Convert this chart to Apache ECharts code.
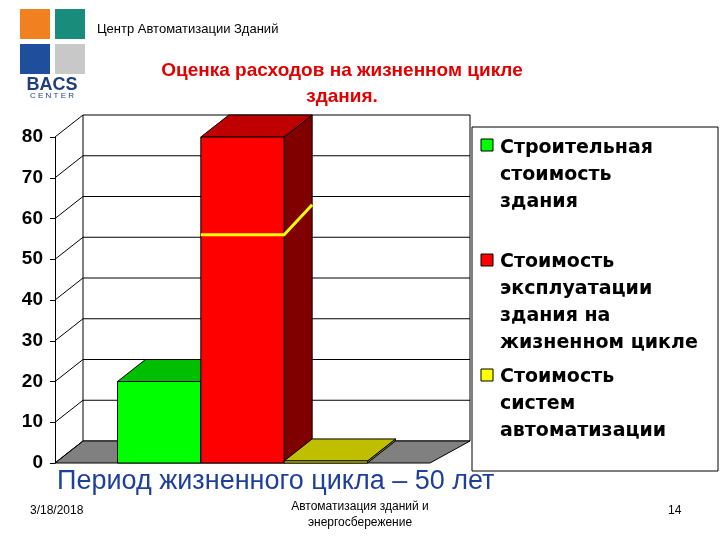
<!DOCTYPE html><html><head><meta charset="utf-8">
<script src="https://cdn.jsdelivr.net/npm/echarts@6/dist/echarts.min.js"></script>
<style>body{margin:0}#c{width:720px;height:540px}</style></head><body><div id="c"></div><script>
const seriesNames=['Строительная стоимость здания','Стоимость эксплуатации здания на жизненном цикле','Стоимость систем автоматизации'];
const barValues=[20,80,0.5];
const barColors=['#00ff00','#ff0000','#ffff00'];
const barPos=[1.25,2.25,3.25];
const lineX=[1.75,2.75];
const lineY=[56,56];
const yTicks=[0,10,20,30,40,50,60,70,80];
const DX=28,DY=-22;
function shade(c,f){const n=parseInt(c.slice(1),16);let r=n>>16,g=(n>>8)&255,b=n&255;return 'rgb('+Math.round(r*f)+','+Math.round(g*f)+','+Math.round(b*f)+')';}
const chart=echarts.init(document.getElementById('c'));
chart.setOption({
 animation:false,backgroundColor:'#fff',
 grid:{left:55,top:137,width:375,height:326},
 xAxis:{type:'value',min:0,max:4.5,show:false},
 yAxis:{type:'value',min:0,max:80,interval:10,axisLine:{show:true,lineStyle:{color:'#000'}},axisTick:{show:true,lineStyle:{color:'#000'}},splitLine:{show:false},
   axisLabel:{color:'#000',fontSize:19,fontWeight:'bold',fontFamily:'Liberation Sans',margin:12}},
 series:[
 {type:'custom',data:[[0]],z:1,renderItem:(p,api)=>{
   const a=api.coord([0,0]),b=api.coord([4.5,0]),t=api.coord([0,80]);
   const top=t[1]+DY,R=b[0]+DX+12;
   const ch=[
    {type:'polygon',shape:{points:[[a[0]+DX,top],[R,top],[R,a[1]+DY],[a[0]+DX,a[1]+DY]]},style:{fill:'#fff',stroke:'#000',lineWidth:1}},
    {type:'polygon',shape:{points:[[a[0],a[1]],[a[0]+DX,a[1]+DY],[R,a[1]+DY],[b[0],a[1]]]},style:{fill:'#808080',stroke:'#000',lineWidth:1}}];
   yTicks.forEach(v=>{const y=api.coord([0,v])[1];
     ch.push({type:'line',shape:{x1:a[0],y1:y,x2:a[0]+DX,y2:y+DY},style:{stroke:'#000',lineWidth:1}});
     if(v>0&&v<80)ch.push({type:'line',shape:{x1:a[0]+DX,y1:y+DY,x2:R,y2:y+DY},style:{stroke:'#000',lineWidth:1}});});
   return {type:'group',children:ch};}},
 {type:'custom',data:barValues.map((v,i)=>[barPos[i],v,i]),z:2,renderItem:(p,api)=>{
   const x=api.value(0),v=api.value(1),i=api.value(2);
   const l=api.coord([x-0.5,v]),r=api.coord([x+0.5,0]);
   const c=barColors[i];
   return {type:'group',children:[
    {type:'polygon',shape:{points:[[r[0],l[1]],[r[0]+DX,l[1]+DY],[r[0]+DX,r[1]+DY],[r[0],r[1]]]},style:{fill:shade(c,0.5),stroke:'#000',lineWidth:1}},
    {type:'polygon',shape:{points:[[l[0],l[1]],[l[0]+DX,l[1]+DY],[r[0]+DX,l[1]+DY],[r[0],l[1]]]},style:{fill:shade(c,0.75),stroke:'#000',lineWidth:1}},
    {type:'rect',shape:{x:l[0],y:l[1],width:r[0]-l[0],height:r[1]-l[1]},style:{fill:c,stroke:'#000',lineWidth:1}}
   ]};}},
 {type:'custom',data:[[0]],z:3,renderItem:(p,api)=>{
   const p1=api.coord([lineX[0],lineY[0]]),p2=api.coord([lineX[1],lineY[1]]);
   return {type:'polyline',shape:{points:[p1,p2,[p2[0]+DX,p2[1]+DY-8]]},style:{stroke:'#ffff00',lineWidth:3,fill:null}};}}
 ],
 graphic:[
  {type:'rect',shape:{x:20,y:9,width:30,height:30},style:{fill:'#f08020'}},
  {type:'rect',shape:{x:55,y:9,width:30,height:30},style:{fill:'#1a8c7c'}},
  {type:'rect',shape:{x:20,y:44,width:30,height:30},style:{fill:'#1f4e9c'}},
  {type:'rect',shape:{x:55,y:44,width:30,height:30},style:{fill:'#c8c8c8'}},
  {type:'text',style:{x:52,y:76,text:'BACS',align:'center',fill:'#1f3f7c',font:'bold 18px Liberation Sans'}},
  {type:'text',style:{x:52,y:92,text:'C E N T E R',align:'center',fill:'#1f3f7c',font:'8px Liberation Sans'}},
  {type:'text',style:{x:97,y:23,text:'Центр Автоматизации Зданий',fill:'#000',font:'13px Liberation Sans'}},
  {type:'text',style:{x:342,y:58,text:'Оценка расходов на жизненном цикле\nздания.',align:'center',lineHeight:26,fill:'#e00000',font:'bold 19px Liberation Sans'}},
  {type:'rect',shape:{x:472,y:127,width:246,height:344},style:{fill:'none',stroke:'#000',lineWidth:1}},
  {type:'rect',shape:{x:481,y:139,width:12,height:12},style:{fill:barColors[0],stroke:'#000'}},
  {type:'rect',shape:{x:481,y:254,width:12,height:12},style:{fill:barColors[1],stroke:'#000'}},
  {type:'rect',shape:{x:481,y:369,width:12,height:12},style:{fill:barColors[2],stroke:'#000'}},
  {type:'text',style:{x:500,y:135,text:'Строительная\nстоимость\nздания',lineHeight:27,fill:'#000',font:'bold 19px DejaVu Sans'}},
  {type:'text',style:{x:500,y:249,text:'Стоимость\nэксплуатации\nздания на\nжизненном цикле',lineHeight:27,fill:'#000',font:'bold 19px DejaVu Sans'}},
  {type:'text',style:{x:500,y:364,text:'Стоимость\nсистем\nавтоматизации',lineHeight:27,fill:'#000',font:'bold 19px DejaVu Sans'}},
  {type:'text',style:{x:57,y:468,text:'Период жизненного цикла – 50 лет',fill:'#1f3f9c',font:'27px Liberation Sans'}},
  {type:'text',style:{x:30,y:505,text:'3/18/2018',fill:'#000',font:'12px Liberation Sans'}},
  {type:'text',style:{x:360,y:499,text:'Автоматизация зданий и\nэнергосбережение',align:'center',lineHeight:16,fill:'#000',font:'12px Liberation Sans'}},
  {type:'text',style:{x:668,y:505,text:'14',fill:'#000',font:'12px Liberation Sans'}}
 ]
});
</script></body></html>
